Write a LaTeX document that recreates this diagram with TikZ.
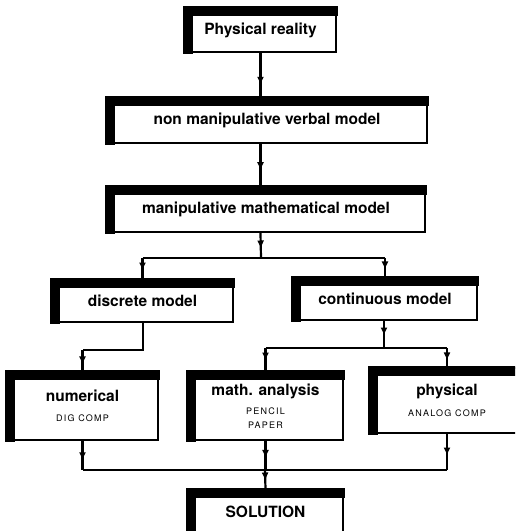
\documentclass[tikz,border=0pt]{standalone}
\usepackage{fontspec}
\setmainfont{TeX Gyre Heros}
\usetikzlibrary{calc, arrows.meta, decorations.markings}

\tikzset{
	modelbox/.style={draw=black, line width=2pt, fill=white, inner sep=0pt, align=center,
			font=\fontsize{15.5}{17}\selectfont\bfseries}
}
\tikzset{
	flowline/.style={line width=2.2pt}
}
\tikzset{
	downhead/.style={
			flowline,
			postaction={decorate,decoration={markings,mark=at position #1 with {\arrow{Triangle[length=7pt,width=6pt]}}}}
		},
	downhead/.default=0.55
}
\newcommand{\boxnote}[1]{{\fontsize{9}{10}\selectfont\mdseries\addfontfeature{LetterSpace=14}#1}}

\begin{document}
\begin{tikzpicture}[x=1pt, y=-1pt]

			\useasboundingbox (0,0) rectangle (515,531);
			\clip (0,0) rectangle (515,531);

			\begin{scope}
				\node[modelbox, minimum width=151pt, minimum height=44pt] (reality) at (260.5,30) {Physical reality};
				\node[modelbox, minimum width=320pt, minimum height=45pt] (verbal) at (267,120.5) {non manipulative verbal model};
				\node[modelbox, minimum width=318pt, minimum height=45pt] (mathmodel) at (266,209.5) {manipulative mathematical model};

				\node[modelbox, minimum width=181pt, minimum height=42pt] (discrete) at (142.5,301) {discrete model};
				\node[modelbox, minimum width=184pt, minimum height=42pt] (continuous) at (385,299) {continuous model};

				\node[modelbox, minimum width=151pt, minimum height=68pt] (numerical) at (82.5,406) {numerical\\[3.5pt]\boxnote{DIG COMP}};
				\node[modelbox, minimum width=155pt, minimum height=68pt] (analysis) at (265.5,406) {math. analysis\\[1.5pt]\boxnote{PENCIL}\\[-3pt]\boxnote{PAPER}};
				\node[modelbox, minimum width=154pt, minimum height=65pt] (physical) at (447,400.5) {physical\\[3.5pt]\boxnote{ANALOG COMP}};

				\node[modelbox, minimum width=155pt, minimum height=44pt] (solution) at (265.5,512) {SOLUTION};
			\end{scope}

			% heavy top and left edges of every box
			\foreach \n in {reality, verbal, mathmodel, discrete, continuous, numerical, analysis, physical, solution} {
					\fill ([xshift=-1pt,yshift=1pt]\n.north west) rectangle ([xshift=1pt,yshift=-9pt]\n.north east);
					\fill ([xshift=-1pt,yshift=1pt]\n.north west) rectangle ([xshift=9pt,yshift=-1pt]\n.south west);
				}

			\begin{scope}
				\coordinate (split1) at (261,258);
				\coordinate (split2) at (143,350);
				\coordinate (split3) at (384,348);
				\coordinate (merge) at (265,470);

				\draw[downhead=0.7] (reality.south) -- (reality.south |- verbal.north);
				\draw[downhead=0.6] (reality.south |- verbal.south) -- (reality.south |- mathmodel.north);
				\draw[downhead=0.58] (reality.south |- mathmodel.south) -- (split1);

				\draw[flowline] (discrete.north |- split1) -- (continuous.north |- split1);
				\draw[downhead] (discrete.north |- split1) -- (discrete.north);
				\draw[downhead] (continuous.north |- split1) -- (continuous.north);

				\draw[flowline] (split2 |- discrete.south) -- (split2) -- (numerical.north |- split2);
				\draw[downhead=0.64] (numerical.north |- split2) -- (numerical.north);

				\draw[downhead=0.5] (split3 |- continuous.south) -- (split3);
				\draw[flowline] (analysis.north |- split3) -- (physical.north |- split3);
				\draw[downhead=0.5] (analysis.north |- split3) -- (analysis.north);
				\draw[downhead=0.6] (physical.north |- split3) -- (physical.north);

				\draw[downhead=0.63] (numerical.south) -- (numerical.south |- merge);
				\draw[downhead] (analysis.south) -- (analysis.south |- merge);
				\draw[downhead=0.57] (physical.south) -- (physical.south |- merge);
				\draw[flowline] (numerical.south |- merge) -- (physical.south |- merge);
				\draw[downhead=0.5] (merge) -- (solution.north);
			\end{scope}

		\end{tikzpicture}
\end{document}
